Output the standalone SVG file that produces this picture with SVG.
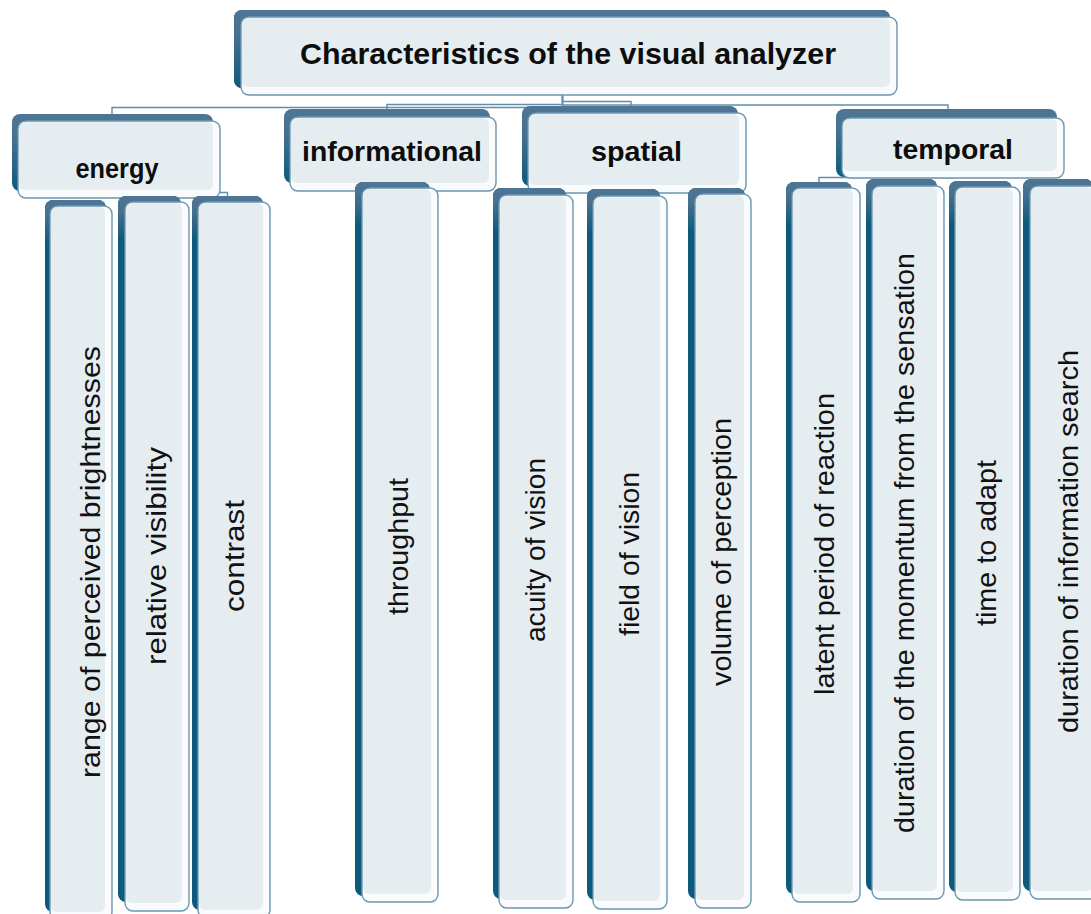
<svg xmlns="http://www.w3.org/2000/svg" width="1091" height="914" viewBox="0 0 1091 914">
<defs>
<linearGradient id="gt" x1="0" y1="0" x2="0" y2="1">
<stop offset="0" stop-color="#4e7595"/>
<stop offset="0.3" stop-color="#49718f"/>
<stop offset="1" stop-color="#0e5a7c"/>
</linearGradient>
<style>
.bk{fill:#0e5a7c}
.bt{fill:url(#gt)}
.fr{fill:#f9fbfc;stroke:#6b97b0;stroke-width:1.4}
.in{fill:#e6edf1}
.cn{fill:none;stroke:#5f8ea9;stroke-width:1.4}
.tt{font-family:"Liberation Sans",Arial,sans-serif;font-weight:bold;font-size:30px;fill:#0d0d0d;text-anchor:middle}
.ct{font-family:"Liberation Sans",Arial,sans-serif;font-weight:bold;font-size:27px;fill:#0d0d0d;text-anchor:middle}
.lf{font-family:"Liberation Sans",Arial,sans-serif;font-size:28.5px;fill:#111;text-anchor:middle}
</style>
</defs>
<rect width="1091" height="914" fill="#ffffff"/>
<g id="connectors">
<path class="cn" d="M562.5,95 V107.5 H112 V114"/>
<path class="cn" d="M562.5,95 V104.5 H387 V109"/>
<path class="cn" d="M562.5,95 V101.5 H631 V106"/>
<path class="cn" d="M562.5,95 V105 H948 V109.5"/>
<path class="cn" d="M116,190 V192.5 H227.5 V196"/>
<path class="cn" d="M953,170 V177.5 H819 V182"/>
</g>
<g id="n-title">
<rect class="bk" x="234" y="10" width="656" height="78" rx="8"/>
<rect class="bt" x="234" y="10" width="656" height="78" rx="8"/>
<rect class="fr" x="241" y="17" width="656" height="78" rx="8"/>
<rect class="in" x="242" y="18" width="648" height="69" rx="6"/>
<text class="tt" x="568" y="64" textLength="536" lengthAdjust="spacingAndGlyphs">Characteristics of the visual analyzer</text>
</g>
<g id="n-energy">
<rect class="bt" x="12" y="114" width="201" height="77" rx="8"/>
<rect class="fr" x="18" y="121" width="202" height="77" rx="8"/>
<rect class="in" x="19" y="122" width="194" height="68" rx="6"/>
<text class="ct" x="117" y="178" textLength="83" lengthAdjust="spacingAndGlyphs">energy</text>
</g>
<g id="n-informational">
<rect class="bt" x="284" y="109" width="206" height="74" rx="8"/>
<rect class="fr" x="290" y="117" width="206" height="74" rx="8"/>
<rect class="in" x="291" y="118" width="198" height="65" rx="6"/>
<text class="ct" x="392" y="161" textLength="180" lengthAdjust="spacingAndGlyphs">informational</text>
</g>
<g id="n-spatial">
<rect class="bt" x="522" y="106" width="216" height="80" rx="8"/>
<rect class="fr" x="528" y="113" width="218" height="80" rx="8"/>
<rect class="in" x="529" y="114" width="210" height="71" rx="6"/>
<text class="ct" x="636.5" y="161" textLength="91" lengthAdjust="spacingAndGlyphs">spatial</text>
</g>
<g id="n-temporal">
<rect class="bt" x="836" y="109" width="221" height="68" rx="8"/>
<rect class="fr" x="842" y="118" width="222" height="60" rx="8"/>
<rect class="in" x="843" y="119" width="214" height="52" rx="6"/>
<text class="ct" x="953" y="159" textLength="120" lengthAdjust="spacingAndGlyphs">temporal</text>
</g>
<g id="n-range">
<rect class="bk" x="45" y="200" width="61" height="712" rx="8"/>
<rect class="bt" x="45" y="200" width="61" height="45" rx="8"/>
<rect class="fr" x="50" y="206" width="62" height="714" rx="8"/>
<rect class="in" x="51" y="207" width="54" height="705" rx="6"/>
<text class="lf" transform="translate(100,562) rotate(-90)" textLength="432" lengthAdjust="spacingAndGlyphs">range of perceived brightnesses</text>
</g>
<g id="n-relative">
<rect class="bk" x="118" y="196" width="63" height="706" rx="8"/>
<rect class="bt" x="118" y="196" width="63" height="45" rx="8"/>
<rect class="fr" x="125" y="202" width="64" height="709" rx="8"/>
<rect class="in" x="126" y="203" width="56" height="700" rx="6"/>
<text class="lf" transform="translate(166,556) rotate(-90)" textLength="218" lengthAdjust="spacingAndGlyphs">relative visibility</text>
</g>
<g id="n-contrast">
<rect class="bk" x="192" y="196" width="71" height="714" rx="8"/>
<rect class="bt" x="192" y="196" width="71" height="45" rx="8"/>
<rect class="fr" x="198" y="202" width="72" height="716" rx="8"/>
<rect class="in" x="199" y="203" width="64" height="707" rx="6"/>
<text class="lf" transform="translate(244,556) rotate(-90)" textLength="112" lengthAdjust="spacingAndGlyphs">contrast</text>
</g>
<g id="n-throughput">
<rect class="bk" x="355" y="182" width="75" height="714" rx="8"/>
<rect class="bt" x="355" y="182" width="75" height="45" rx="8"/>
<rect class="fr" x="362" y="188" width="76" height="714" rx="8"/>
<rect class="in" x="363" y="189" width="68" height="705" rx="6"/>
<text class="lf" transform="translate(408,546.5) rotate(-90)" textLength="137" lengthAdjust="spacingAndGlyphs">throughput</text>
</g>
<g id="n-acuity">
<rect class="bk" x="493" y="188" width="73" height="711" rx="8"/>
<rect class="bt" x="493" y="188" width="73" height="45" rx="8"/>
<rect class="fr" x="499" y="195" width="74" height="713" rx="8"/>
<rect class="in" x="500" y="196" width="66" height="704" rx="6"/>
<text class="lf" transform="translate(545,550) rotate(-90)" textLength="184" lengthAdjust="spacingAndGlyphs">acuity of vision</text>
</g>
<g id="n-field">
<rect class="bk" x="587" y="189" width="73" height="711" rx="8"/>
<rect class="bt" x="587" y="189" width="73" height="45" rx="8"/>
<rect class="fr" x="593" y="196" width="74" height="713" rx="8"/>
<rect class="in" x="594" y="197" width="66" height="704" rx="6"/>
<text class="lf" transform="translate(639,554) rotate(-90)" textLength="164" lengthAdjust="spacingAndGlyphs">field of vision</text>
</g>
<g id="n-volume">
<rect class="bk" x="688" y="188" width="57" height="711" rx="8"/>
<rect class="bt" x="688" y="188" width="57" height="45" rx="8"/>
<rect class="fr" x="695" y="194" width="56" height="714" rx="8"/>
<rect class="in" x="696" y="195" width="48" height="705" rx="6"/>
<text class="lf" transform="translate(731,552) rotate(-90)" textLength="268" lengthAdjust="spacingAndGlyphs">volume of perception</text>
</g>
<g id="n-latent">
<rect class="bk" x="786" y="182" width="66" height="712" rx="8"/>
<rect class="bt" x="786" y="182" width="66" height="45" rx="8"/>
<rect class="fr" x="792" y="188" width="68" height="714" rx="8"/>
<rect class="in" x="793" y="189" width="60" height="705" rx="6"/>
<text class="lf" transform="translate(834,544) rotate(-90)" textLength="302" lengthAdjust="spacingAndGlyphs">latent period of reaction</text>
</g>
<g id="n-momentum">
<rect class="bk" x="866" y="179" width="71" height="712" rx="8"/>
<rect class="bt" x="866" y="179" width="71" height="45" rx="8"/>
<rect class="fr" x="872" y="186" width="72" height="713" rx="8"/>
<rect class="in" x="873" y="187" width="64" height="704" rx="6"/>
<text class="lf" transform="translate(914,543) rotate(-90)" textLength="580" lengthAdjust="spacingAndGlyphs">duration of the momentum from the sensation</text>
</g>
<g id="n-adapt">
<rect class="bk" x="949" y="181" width="63" height="711" rx="8"/>
<rect class="bt" x="949" y="181" width="63" height="45" rx="8"/>
<rect class="fr" x="955" y="187" width="65" height="713" rx="8"/>
<rect class="in" x="956" y="188" width="57" height="704" rx="6"/>
<text class="lf" transform="translate(996,543) rotate(-90)" textLength="166" lengthAdjust="spacingAndGlyphs">time to adapt</text>
</g>
<g id="n-search">
<rect class="bk" x="1023" y="179" width="70" height="712" rx="8"/>
<rect class="bt" x="1023" y="179" width="70" height="45" rx="8"/>
<rect class="fr" x="1030" y="186" width="70" height="713" rx="8"/>
<rect class="in" x="1031" y="187" width="62" height="704" rx="6"/>
<text class="lf" transform="translate(1078,541.5) rotate(-90)" textLength="383" lengthAdjust="spacingAndGlyphs">duration of information search</text>
</g>
</svg>
